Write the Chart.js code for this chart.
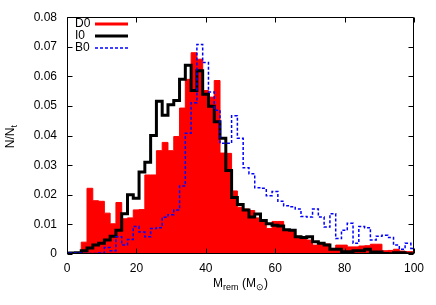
<!DOCTYPE html>
<html><head><meta charset="utf-8">
<script src="https://cdn.jsdelivr.net/npm/chart.js@4.4.1/dist/chart.umd.min.js"></script>
<style>html,body{margin:0;padding:0;background:#fff}</style>
</head><body>
<canvas id="c" width="436" height="305" style="width:436px;height:305px;display:block"></canvas>
<script>
// ---- data ----
const binStart = -0.9;          // left edge of first bin (M_sun)
const binWidth = 5 / 3;         // bin width (M_sun)
const xTicks = [0, 20, 40, 60, 80, 100];
const yTicks = [0, 0.01, 0.02, 0.03, 0.04, 0.05, 0.06, 0.07, 0.08];
const seriesNames = ['D0', 'I0', 'B0'];

const d0 = [0, 0, 0, 0.004, 0.0222, 0.018, 0.0178, 0.0138, 0.0102, 0.0174,
  0.0119, 0.0122, 0.0149, 0.015, 0.0267, 0.0267, 0.0349, 0.0377, 0.0349, 0.0397,
  0.0493, 0.059, 0.068, 0.0658, 0.0552, 0.053, 0.0586, 0.0341, 0.034, 0.0213,
  0.0158, 0.0152, 0.0147, 0.0122, 0.0113, 0.0086, 0.011, 0.011, 0.008, 0.008,
  0.006, 0.0058, 0.0047, 0.003, 0.0036, 0.0034, 0.0019, 0.003, 0.003, 0.0024,
  0.0024, 0.0027, 0.0028, 0.0033, 0.0033, 0.0011, 0.0012, 0.0016, 0.001, 0.0008,
  0.0008];

const i0 = [0.0002, 0.0003, 0.0004, 0.0011, 0.002, 0.003, 0.0036, 0.0047, 0.006, 0.008,
  0.0136, 0.02, 0.0188, 0.0277, 0.031, 0.04, 0.0516, 0.0469, 0.0504, 0.0519,
  0.059, 0.0638, 0.0552, 0.0619, 0.054, 0.0499, 0.0447, 0.0391, 0.0282, 0.0191,
  0.0167, 0.0149, 0.0125, 0.0135, 0.0113, 0.0102, 0.0097, 0.0095, 0.0082, 0.008,
  0.0058, 0.0056, 0.0058, 0.0041, 0.0036, 0.003, 0.0016, 0.0016, 0.0008, 0.0008,
  0.0011, 0.0011, 0.0016, 0.0007, 0.0007, 0.0002, 0.0001, 0.0004, 0.0004, 0.0001,
  0];

const b0 = [0.0003, 0.0003, 0.0003, 0.0002, 0.0002, 0.0002, 0.0003, 0.0022, 0.0011, 0.0058,
  0.003, 0.0049, 0.0093, 0.0074, 0.0058, 0.0086, 0.0089, 0.0124, 0.0133, 0.0149,
  0.023, 0.0408, 0.0511, 0.0708, 0.0647, 0.0547, 0.0486, 0.0374, 0.0374, 0.0467,
  0.0391, 0.0291, 0.0271, 0.0224, 0.0222, 0.0197, 0.0211, 0.0178, 0.0163, 0.016,
  0.0152, 0.0127, 0.0125, 0.0152, 0.0125, 0.0091, 0.0136, 0.0052, 0.008, 0.0104,
  0.0036, 0.0093, 0.0089, 0.0047, 0.006, 0.0063, 0.0056, 0.003, 0.0016, 0.0036,
  0.0019];

// ---- build step points (left edges + closing right edge) ----
function steps(vals) {
  const pts = vals.map((v, k) => ({ x: binStart + k * binWidth, y: v }));
  pts.push({ x: binStart + vals.length * binWidth, y: vals[vals.length - 1] });
  return pts;
}

const FONT = "'Liberation Sans', Arial, Helvetica, sans-serif";
const colors = ['#ff0000', '#000000', '#0000ff'];

const framePlugin = {
  id: 'frame',
  afterDraw(chart) {
    const { ctx, chartArea: a, scales: { x, y } } = chart;
    ctx.save();
    ctx.strokeStyle = '#000';
    ctx.lineWidth = 1;
    const L = Math.round(a.left) + 0.5, R = Math.round(a.right) - 0.5;
    const T = Math.round(a.top) + 0.5, B = Math.round(a.bottom) - 0.5;
    ctx.beginPath();
    ctx.rect(L, T, R - L, B - T);
    const tl = 5;
    xTicks.forEach(v => {
      const px = Math.round(x.getPixelForValue(v)) + 0.5;
      ctx.moveTo(px, B); ctx.lineTo(px, B - tl);
      ctx.moveTo(px, T); ctx.lineTo(px, T + tl);
    });
    yTicks.forEach(v => {
      const py = Math.round(y.getPixelForValue(v)) + 0.5;
      ctx.moveTo(L, py); ctx.lineTo(L + tl, py);
      ctx.moveTo(R, py); ctx.lineTo(R - tl, py);
    });
    ctx.stroke();

    // legend (text left, sample right)
    ctx.font = '12px ' + FONT;
    ctx.fillStyle = '#000';
    ctx.textBaseline = 'middle';
    ctx.textAlign = 'left';
    const rows = [24, 36, 48];
    seriesNames.forEach((n, i) => {
      ctx.fillText(n, 75, rows[i]);
      ctx.beginPath();
      ctx.strokeStyle = colors[i];
      ctx.lineWidth = i === 2 ? 1.5 : 3;
      ctx.setLineDash(i === 2 ? [3, 2] : []);
      ctx.moveTo(95, rows[i]); ctx.lineTo(128, rows[i]);
      ctx.stroke();
    });
    ctx.setLineDash([]);

    // x title: M_rem (M_sun)
    const parts = [['M', 0, 12], ['rem', 3, 9], [' (M', 0, 12], ['\u2299', 3, 9], [')', 0, 12]];
    let total = 0;
    parts.forEach(p => { ctx.font = p[2] + 'px ' + FONT; total += ctx.measureText(p[0]).width; });
    let cx = (a.left + a.right) / 2 - total / 2;
    ctx.textBaseline = 'alphabetic';
    parts.forEach(p => {
      ctx.font = p[2] + 'px ' + FONT;
      ctx.fillText(p[0], cx, 287 + p[1]);
      cx += ctx.measureText(p[0]).width;
    });

    // y title: N/N_t rotated
    ctx.save();
    ctx.translate(14, (a.top + a.bottom) / 2 + 1);
    ctx.rotate(-Math.PI / 2);
    const yp = [['N/N', 0, 12], ['t', 3, 9]];
    let yt = 0;
    yp.forEach(p => { ctx.font = p[2] + 'px ' + FONT; yt += ctx.measureText(p[0]).width; });
    let yx = -yt / 2;
    yp.forEach(p => {
      ctx.font = p[2] + 'px ' + FONT;
      ctx.fillText(p[0], yx, p[1]);
      yx += ctx.measureText(p[0]).width;
    });
    ctx.restore();
    ctx.restore();
  }
};

new Chart(document.getElementById('c'), {
  type: 'line',
  data: {
    datasets: [
      { label: seriesNames[0], data: steps(d0), stepped: 'before', borderColor: colors[0], borderWidth: 1,
        backgroundColor: colors[0], fill: 'origin', pointRadius: 0, order: 3 },
      { label: seriesNames[1], data: steps(i0), stepped: 'before', borderColor: colors[1], borderWidth: 3,
        fill: false, pointRadius: 0, order: 2, borderJoinStyle: 'miter' },
      { label: seriesNames[2], data: steps(b0), stepped: 'before', borderColor: colors[2], borderWidth: 1.5,
        borderDash: [3, 2], fill: false, pointRadius: 0, order: 1 }
    ]
  },
  options: {
    responsive: false,
    animation: false,
    devicePixelRatio: 1,
    layout: { padding: { left: 0, right: 22, top: 15, bottom: 0 } },
    plugins: { legend: { display: false }, tooltip: { enabled: false } },
    scales: {
      x: {
        type: 'linear', min: 0, max: 100,
        afterFit(s) { s.height = 51; },
        afterBuildTicks(s) { s.ticks = xTicks.map(v => ({ value: v })); },
        grid: { display: false, drawTicks: false },
        border: { display: false },
        ticks: { padding: 7, color: '#000', font: { family: FONT, size: 12 }, maxRotation: 0,
          callback: v => String(v) }
      },
      y: {
        type: 'linear', min: 0, max: 0.08,
        afterFit(s) { s.width = 67; },
        afterBuildTicks(s) { s.ticks = yTicks.map(v => ({ value: v })); },
        grid: { display: false, drawTicks: false },
        border: { display: false },
        ticks: { padding: 10, color: '#000', font: { family: FONT, size: 12 },
          callback: v => (v === 0 ? '0' : v.toFixed(2)) }
      }
    }
  },
  plugins: [framePlugin]
});
</script>
</body></html>
